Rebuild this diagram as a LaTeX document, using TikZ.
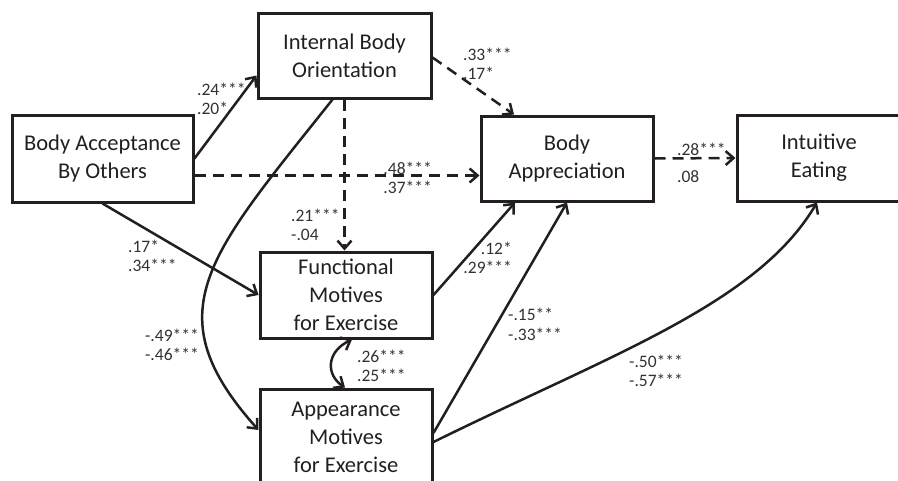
\documentclass[tikz,border=0pt]{standalone}
\usepackage{fontspec}
\setmainfont{Carlito}
\usetikzlibrary{arrows.meta,calc}
\definecolor{ink}{RGB}{35,31,32}
\definecolor{coefgray}{RGB}{50,50,50}

\begin{document}
\begin{tikzpicture}[x=1pt,y=-1pt,
	box/.style={draw=ink,line width=3pt,minimum width=172pt,minimum height=86pt,
		inner sep=0pt,align=center,text=ink,font=\fontsize{22.5}{28}\selectfont},
	coef/.style={inner sep=0pt,align=left,text=coefgray,font=\fontsize{17.5}{19.5}\selectfont},
	link/.style={draw=ink,line width=2.5pt,-{Straight Barb[length=8pt,width=14pt]}},
	dlink/.style={link,dash pattern=on 11pt off 7pt}]
	\useasboundingbox (0,0) rectangle (898,480);
	\clip (0,0) rectangle (898,480);

	% variables
	\node[box,minimum width=181pt,minimum height=87pt] (bao) at (102.5,158.5) {Body Acceptance\\By Others};
	\node[box,minimum width=173pt,minimum height=85pt] (ibo) at (344.5,55.5) {Internal Body\\Orientation};
	\node[box,minimum height=85pt] (bap) at (567,158.5) {Body\\Appreciation};
	\node[box,minimum width=164pt] (ie) at (819,158) {Intuitive\\Eating};
	\node[box] (fme) at (346,295) {Functional\\Motives\\for Exercise};
	\node[box,minimum height=97pt] (ame) at (346,437.5) {Appearance\\Motives\\for Exercise};

	% paths
	\draw[link] (bao.east) -- ($(ibo.west)+(0,20)$);
	\draw[dlink] ($(bao.east)+(0,17)$) -- ($(bap.west)+(0,17)$);
	\draw[dlink] ($(ibo.east)+(0,2)$) -- ($(bap.north)+(-53,0)$);
	\draw[dlink] (ibo.south) -- (ibo.south |- fme.north);
	\draw[link] (bao.south) -- (fme.west);
	\draw[link] ($(ibo.south)+(-12,0)$) .. controls (208,256) and (153,312)
		.. ($(ame.west)+(0,-7.5)$);
	\draw[link,{Straight Barb[length=8pt,width=14pt]}-{Straight Barb[length=8pt,width=14pt]}]
		($(fme.south)+(6,0)$) .. controls (326,352) and (326,375) .. ($(ame.north)+(-1,0)$);
	\draw[link] (fme.east) -- ($(bap.south)+(-52,0)$);
	\draw[link] ($(ame.east)+(0,-4.5)$) -- (bap.south);
	\draw[link] ($(ame.east)+(0,4.5)$) .. controls (612,354) and (757,304)
		.. ($(ie.south)+(-2,0)$);
	\draw[dlink] (bap.east) -- (ie.west);

	% coefficients
	\node[coef,anchor=west] (c1) at (197,99) {.24***\\.20*};
	\node[coef,anchor=east,align=right] (c2) at (432,178) {.48***\\.37***};
	\node[coef,anchor=west] (c3) at (463,64) {.33***\\.17*};
	\node[coef,anchor=west] (c4) at (291,225) {.21***\\-.04};
	\node[coef,anchor=west] (c5) at (128,256) {.17*\\.34***};
	\node[coef,anchor=east,align=right] (c6) at (199,345) {-.49***\\-.46***};
	\node[coef,anchor=west] (c7) at (357,366) {.26***\\.25***};
	\node[coef,anchor=east,align=right] (c8) at (512,258) {.12*\\.29***};
	\node[coef,anchor=west] (c9) at (508,324.5) {-.15**\\-.33***};
	\node[coef,anchor=west] (c10) at (629,371) {-.50***\\-.57***};
	\node[coef,anchor=west] (c11) at (677,163) {.28***\\[7pt].08};
\end{tikzpicture}
\end{document}
